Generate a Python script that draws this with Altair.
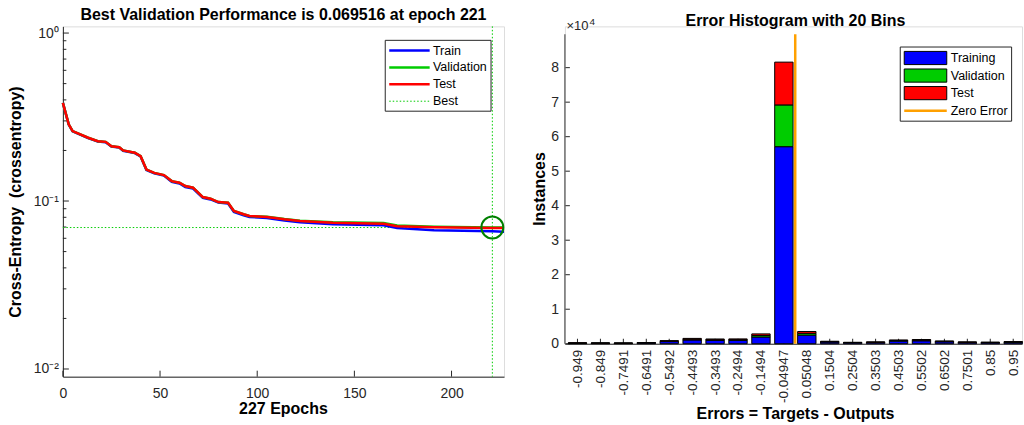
import altair as alt
import pandas as pd

FONT = "Liberation Sans"
INK = "#262626"

# ---------------- training record: cross-entropy per epoch ----------------
epochs = [0, 3, 5, 13, 18, 22, 25, 29, 31, 37, 40, 43, 47, 52, 56, 60, 63, 67,
          72, 76, 80, 85, 88, 93, 96, 105, 114, 122, 139, 165, 172, 191, 221, 227]
perf_train = [0.384, 0.285, 0.260, 0.237, 0.226, 0.224, 0.211, 0.208, 0.199, 0.193,
              0.184, 0.153, 0.146, 0.1417, 0.1302, 0.1272, 0.1212, 0.1185, 0.1045,
              0.1022, 0.0978, 0.0966, 0.0860, 0.0822, 0.0803, 0.0793, 0.0766, 0.0748,
              0.0728, 0.0718, 0.0690, 0.0670, 0.0660, 0.0657]
perf_val = [0.384, 0.286, 0.261, 0.238, 0.227, 0.225, 0.212, 0.209, 0.200, 0.194,
            0.185, 0.154, 0.147, 0.1427, 0.1314, 0.1285, 0.1228, 0.120, 0.1056,
            0.1032, 0.0986, 0.0977, 0.0872, 0.0834, 0.0815, 0.0807, 0.0781, 0.0763,
            0.0747, 0.0740, 0.0715, 0.0704, 0.069516, 0.0696]
perf_test = [0.384, 0.286, 0.261, 0.238, 0.227, 0.225, 0.212, 0.209, 0.200, 0.194,
             0.185, 0.154, 0.147, 0.1427, 0.1314, 0.1285, 0.1228, 0.120, 0.1056,
             0.1032, 0.0986, 0.0977, 0.0872, 0.0834, 0.0815, 0.0804, 0.0778, 0.0760,
             0.0743, 0.0733, 0.0708, 0.0699, 0.0692, 0.0690]
best_epoch = 221
best_perf = 0.069516
n_epochs = 227

perf_x_ticks = [0, 50, 100, 150, 200]
perf_y_ticks = [0.01, 0.1, 1]
perf_y_tick_text = ["10\u207b\u00b2", "10\u207b\u00b9", "10\u2070"]

# ---------------- error histogram, 20 bins ----------------
hist_labels = ["-0.949", "-0.849", "-0.7491", "-0.6491", "-0.5492", "-0.4493",
               "-0.3493", "-0.2494", "-0.1494", "-0.04947", "0.05048", "0.1504",
               "0.2504", "0.3503", "0.4503", "0.5502", "0.6502", "0.7501", "0.85", "0.95"]
hist_train = [175, 155, 140, 245, 630, 1085, 965, 980, 1950, 57100,
              2500, 505, 295, 365, 770, 855, 560, 365, 315, 435]
hist_val = [38, 33, 30, 52, 135, 232, 207, 210, 450, 12100,
            520, 108, 63, 78, 165, 183, 120, 78, 68, 93]
hist_test = [37, 32, 30, 53, 135, 233, 208, 210, 450, 12400,
             530, 107, 62, 77, 165, 182, 120, 77, 67, 92]
hist_y_ticks = [0, 10000, 20000, 30000, 40000, 50000, 60000, 70000, 80000]
hist_y_limit = 89650

# ---------------- panel geometry ----------------
L_W, L_H = 442, 351
R_W, R_H = 458, 318
ONE = pd.DataFrame({"k": [0]})


def text(s, x, y, size, bold=False, align="left", baseline="alphabetic", angle=0, color="#000000"):
    return alt.Chart(ONE).mark_text(
        text=s, font=FONT, fontSize=size, fontWeight="bold" if bold else "normal",
        align=align, baseline=baseline, angle=angle, color=color,
    ).encode(x=alt.value(x), y=alt.value(y))


def label_expr(values, labels):
    parts = [f"datum.value == {v} ? '{t}'" for v, t in zip(values, labels)]
    return " : ".join(parts) + " : ''"


# ======================= performance panel =======================
XS_L = alt.Scale(domain=[0, n_epochs], nice=False, zero=False)
YS_L = alt.Scale(type="log", domain=[0.00900, 1.096], nice=False)
AX_L = alt.Axis(values=perf_x_ticks, title=None, grid=False, ticks=False, tickSize=0,
                labelFontSize=14, labelPadding=10, labelFlush=False, labelOverlap=False,
                domainColor=INK, labelColor=INK, labelFont=FONT)
AY_L = alt.Axis(values=perf_y_ticks, title=None, grid=False, ticks=False, tickSize=0,
                labelFontSize=14, labelPadding=4.5, labelOverlap=False, labelFlush=False,
                labelExpr=label_expr(perf_y_ticks, perf_y_tick_text),
                domainColor=INK, labelColor=INK, labelFont=FONT)


def lx(f):
    return alt.X(f, type="quantitative", scale=XS_L, axis=AX_L)


def ly(f):
    return alt.Y(f, type="quantitative", scale=YS_L, axis=AY_L)


perf = pd.DataFrame({"epoch": epochs, "train": perf_train, "val": perf_val, "test": perf_test})
best = pd.DataFrame({"epoch": [best_epoch], "perf": [best_perf]})

line_train = alt.Chart(perf).mark_line(color="#0000FF", strokeWidth=2.5).encode(x=lx("epoch"), y=ly("train"))
line_val = alt.Chart(perf).mark_line(color="#00CC00", strokeWidth=2.5).encode(x=lx("epoch"), y=ly("val"))
line_test = alt.Chart(perf).mark_line(color="#FF0000", strokeWidth=2.5).encode(x=lx("epoch"), y=ly("test"))

best_v = alt.Chart(best).mark_rule(color="#00CC00", strokeWidth=1, strokeDash=[1.5, 2]).encode(
    x=lx("epoch"), y=alt.value(0), y2=alt.value(L_H))
best_h = alt.Chart(best).mark_rule(color="#00CC00", strokeWidth=1, strokeDash=[1.5, 2]).encode(
    y=ly("perf"), x=alt.value(0), x2=alt.value(L_W))
best_circle = alt.Chart(best).mark_point(shape="circle", size=484, filled=False,
                                         color="#008000", strokeWidth=2, opacity=1).encode(
    x=lx("epoch"), y=ly("perf"))

minor_vals = [m * 10.0 ** k for k in (-2, -1) for m in range(2, 10)]
major_ticks = alt.Chart(pd.DataFrame({"v": perf_y_ticks})).mark_rule(color=INK, strokeWidth=1).encode(
    y=ly("v"), x=alt.value(0), x2=alt.value(6))
minor_ticks = alt.Chart(pd.DataFrame({"v": minor_vals})).mark_rule(color=INK, strokeWidth=1).encode(
    y=ly("v"), x=alt.value(0), x2=alt.value(3.5))
x_ticks_l = alt.Chart(pd.DataFrame({"v": perf_x_ticks})).mark_rule(color=INK, strokeWidth=1).encode(
    x=lx("v"), y=alt.value(L_H), y2=alt.value(L_H - 6))

# legend (box, samples, names)
perf_names = ["Train", "Validation", "Test", "Best"]
perf_colors = ["#0000FF", "#00CC00", "#FF0000", "#00CC00"]
lg_x0, lg_x1, lg_y0, lg_y1 = 323, 429, 14, 85
lg_first, lg_step = 24.3, 16.9
leg_l = [alt.Chart(ONE).mark_rect(fill="white", stroke=INK, strokeWidth=1).encode(
    x=alt.value(lg_x0), x2=alt.value(lg_x1), y=alt.value(lg_y0), y2=alt.value(lg_y1))]
for i, (nm, col) in enumerate(zip(perf_names, perf_colors)):
    yy = lg_first + i * lg_step
    if nm == "Best":
        mk = alt.Chart(ONE).mark_rule(color=col, strokeWidth=1, strokeDash=[1.5, 2])
    else:
        mk = alt.Chart(ONE).mark_rule(color=col, strokeWidth=2.5)
    leg_l.append(mk.encode(x=alt.value(327), x2=alt.value(367.5), y=alt.value(yy)))
    leg_l.append(text(nm, 370.8, yy, 12.5, baseline="middle"))

left = alt.layer(
    x_ticks_l, major_ticks, minor_ticks,
    best_v, best_h,
    line_train, line_val, line_test,
    best_circle,
    *leg_l,
    text("Best Validation Performance is 0.069516 at epoch 221", L_W / 2, -6, 16, bold=True, align="center"),
    text("Cross-Entropy\u00a0 (crossentropy)", -41.5, 176, 16, bold=True, align="center", angle=270),
    text(f"{n_epochs} Epochs", L_W / 2, 388.5, 16, bold=True, align="center"),
).properties(width=L_W, height=L_H)

# ======================= histogram panel =======================
centers = [float(s) for s in hist_labels]
step = centers[1] - centers[0]
half = 0.4 * step
x_left = centers[0] - 0.5483 * step
XS_R = alt.Scale(domain=[x_left, x_left + R_W / 229.9], nice=False, zero=False)
y_top = hist_y_limit * R_H / (R_H - 8)
YS_R = alt.Scale(domain=[0, y_top], nice=False, zero=True)
AX_R = alt.Axis(values=centers, title=None, grid=False, ticks=False, tickSize=0,
                labelAngle=270, labelAlign="right", labelBaseline="middle",
                labelFontSize=13.5, labelPadding=5.5, labelOverlap=False, labelFlush=False,
                labelExpr=label_expr(centers, hist_labels),
                domainColor=INK, labelColor=INK, labelFont=FONT)
AY_R = alt.Axis(values=hist_y_ticks, title=None, grid=False, ticks=False, tickSize=0,
                domain=False, labelFontSize=14, labelPadding=6.5, labelOverlap=False,
                labelFlush=False, labelExpr="format(datum.value / 10000, 'd')",
                labelColor=INK, labelFont=FONT)


def rx(f):
    return alt.X(f, type="quantitative", scale=XS_R, axis=AX_R)


def ry(f):
    return alt.Y(f, type="quantitative", scale=YS_R, axis=AY_R)


hist_sets = ["Training", "Validation", "Test"]
hist_colors = ["#0000FF", "#00CC00", "#FF0000"]
rows = []
for c, a, b, t in zip(centers, hist_train, hist_val, hist_test):
    base = 0
    for nm, v in zip(hist_sets, (a, b, t)):
        rows.append({"set": nm, "x0": c - half, "x1": c + half, "y0": base, "y1": base + v})
        base += v
hist = pd.DataFrame(rows)

bars = alt.Chart(hist).mark_bar(stroke="#000000", strokeWidth=1, opacity=1).encode(
    x=rx("x0"), x2="x1", y=ry("y0"), y2="y1",
    color=alt.Color("set:N", scale=alt.Scale(domain=hist_sets, range=hist_colors), legend=None),
)
x_ticks_r = alt.Chart(pd.DataFrame({"v": centers})).mark_rule(color=INK, strokeWidth=1).encode(
    x=rx("v"), y=alt.value(R_H), y2=alt.value(R_H - 5))
y_ticks_r = alt.Chart(pd.DataFrame({"v": hist_y_ticks})).mark_rule(color=INK, strokeWidth=1).encode(
    y=ry("v"), x=alt.value(0), x2=alt.value(5))
y_axis_line = alt.Chart(pd.DataFrame({"a": [0], "b": [hist_y_limit]})).mark_rule(
    color="#707070", strokeWidth=1.5).encode(y=ry("a"), y2="b", x=alt.value(0))
zero_line = alt.Chart(pd.DataFrame({"x": [0.0], "a": [0], "b": [hist_y_limit]})).mark_rule(
    color="#FFA000", strokeWidth=2.5).encode(x=rx("x"), y=ry("a"), y2="b")

# legend
leg_r = [alt.Chart(ONE).mark_rect(fill="white", stroke=INK, strokeWidth=1).encode(
    x=alt.value(336), x2=alt.value(447.6), y=alt.value(20.7), y2=alt.value(95))]
for i, (nm, col) in enumerate(zip(hist_sets, hist_colors)):
    yy = 31.7 + i * 17.6
    leg_r.append(alt.Chart(ONE).mark_rect(fill=col, stroke="#000000", strokeWidth=1).encode(
        x=alt.value(340), x2=alt.value(382.6), y=alt.value(yy - 6.6), y2=alt.value(yy + 6.6)))
    leg_r.append(text(nm, 386.6, yy, 12.5, baseline="middle"))
leg_r.append(alt.Chart(ONE).mark_rule(color="#FFA000", strokeWidth=2.5).encode(
    x=alt.value(340), x2=alt.value(382.6), y=alt.value(84.5)))
leg_r.append(text("Zero Error", 386.6, 84.5, 12.5, baseline="middle"))

right = alt.layer(
    x_ticks_r, y_ticks_r, bars, y_axis_line, zero_line,
    *leg_r,
    text("Error Histogram with 20 Bins", 231, 0, 16, bold=True, align="center"),
    text("\u00d710", 1.6, 4, 13, color=INK),
    text("4", 24.6, -1, 10, color=INK),
    text("Instances", -20.2, 163, 16, bold=True, align="center", angle=270),
    text("Errors = Targets - Outputs", 231, 393.3, 16, bold=True, align="center"),
).properties(width=R_W, height=R_H)

chart = alt.hconcat(left, right, spacing=61, bounds="flush").properties(
    padding={"left": 8, "top": 6, "right": 0, "bottom": 0}
).configure_view(strokeWidth=0).configure(font=FONT)

chart.save("out.html", embed_options={"renderer": "svg", "actions": False})
